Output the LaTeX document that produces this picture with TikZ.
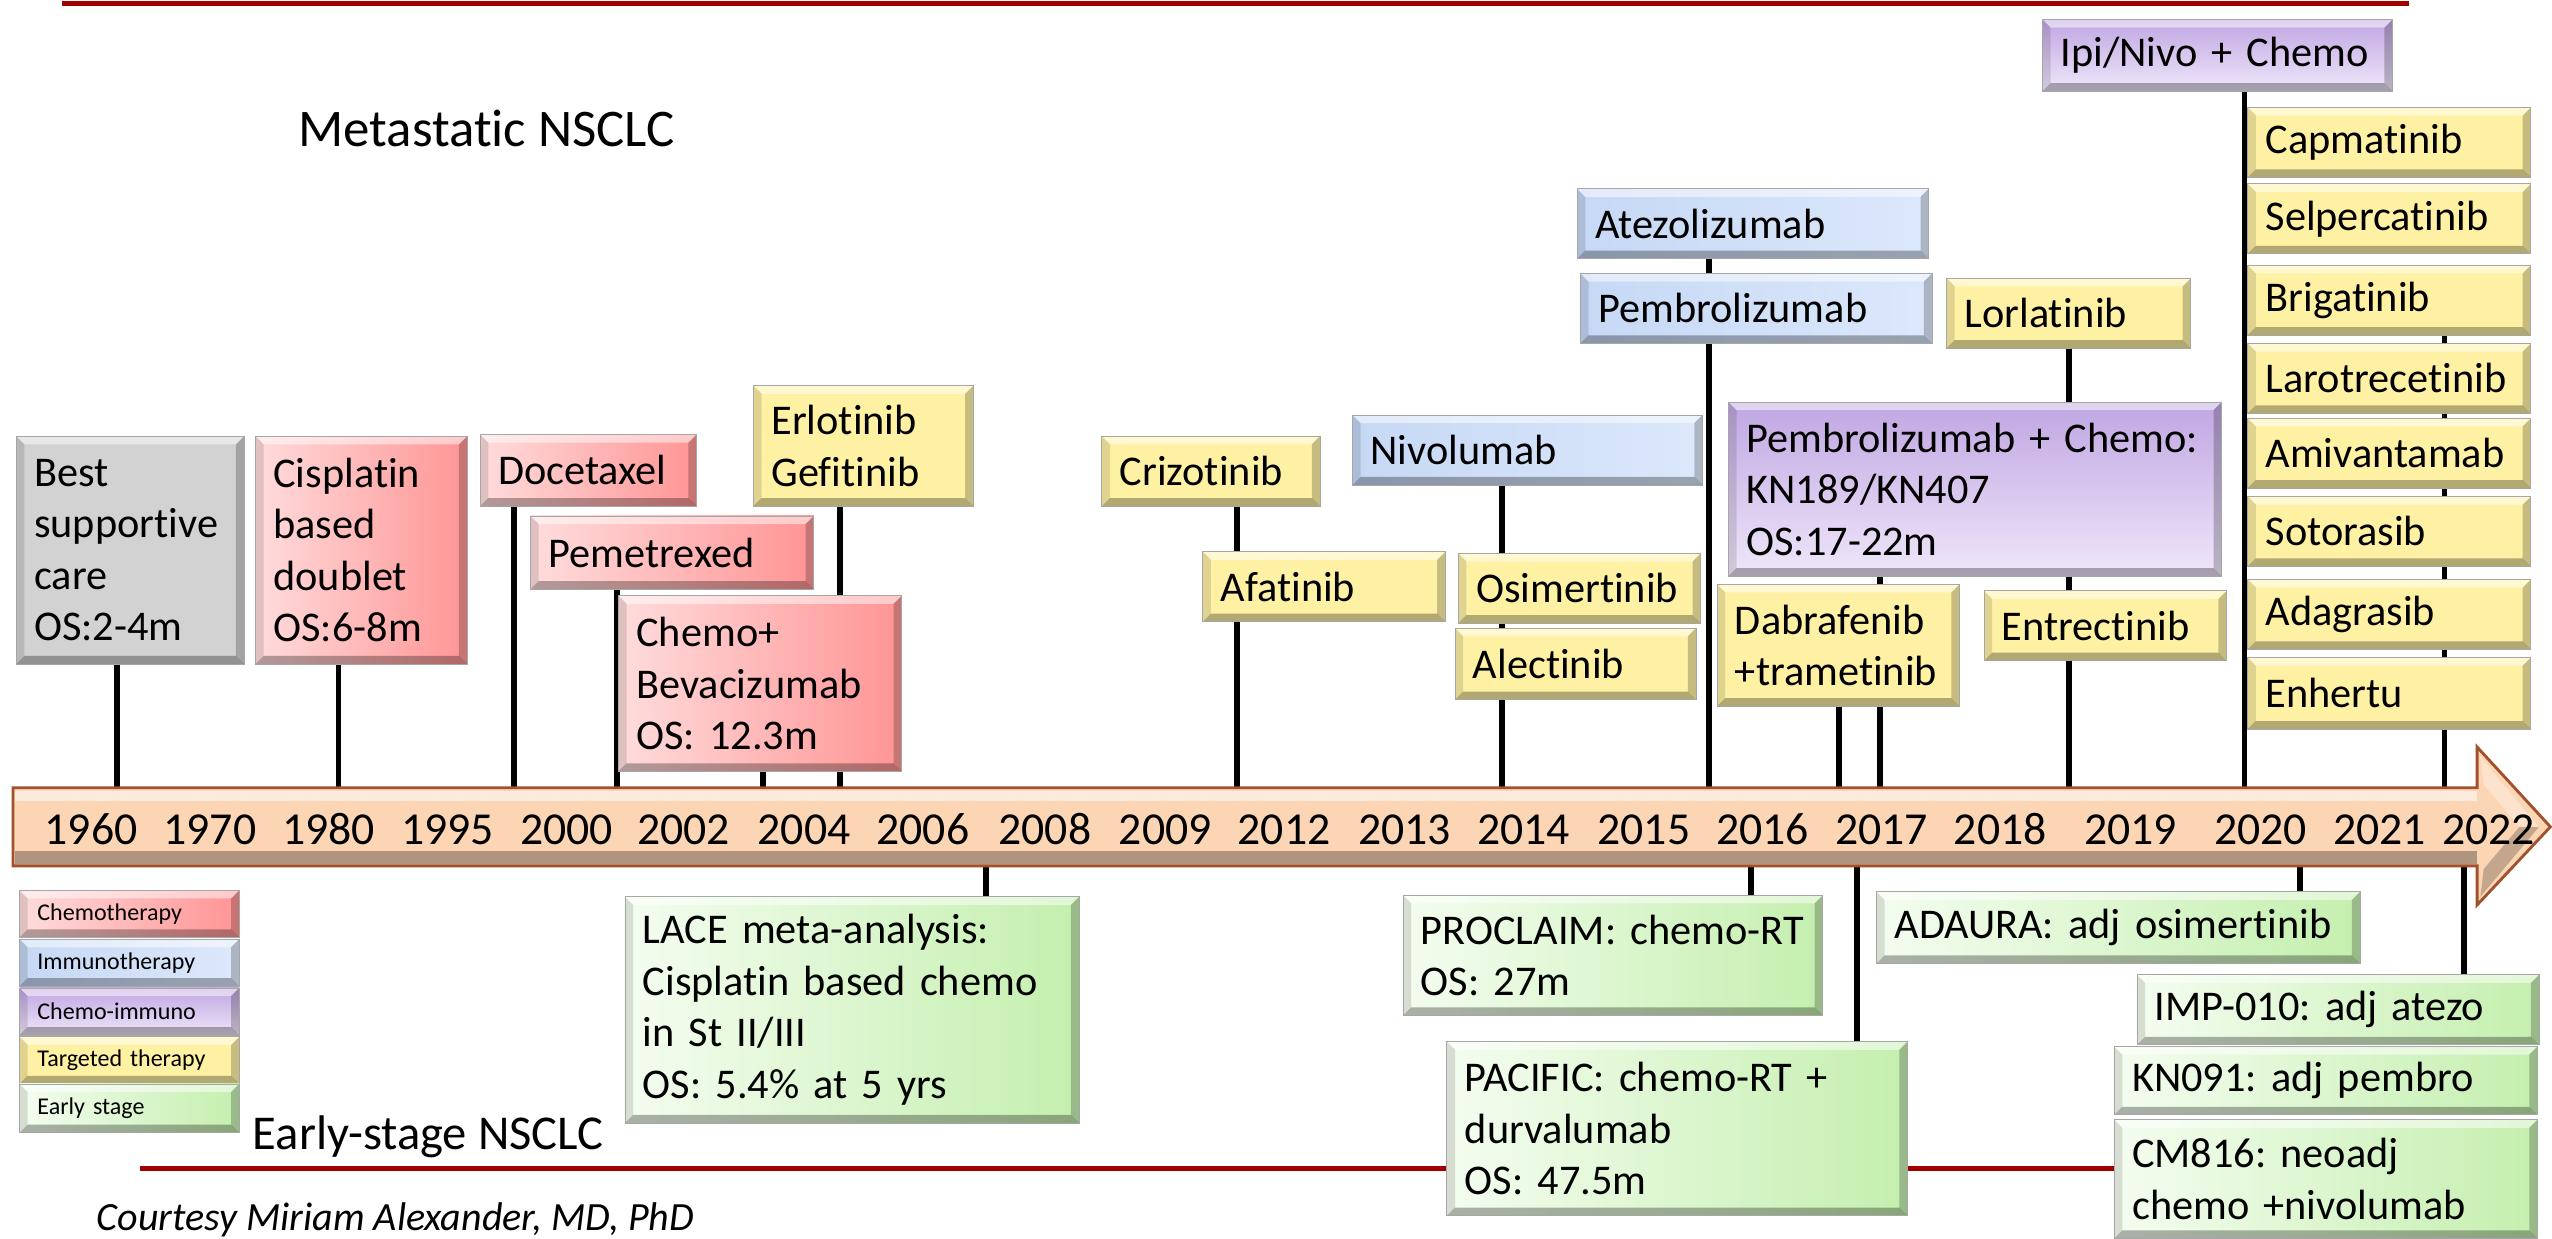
\documentclass[tikz,border=0pt]{standalone}
\usepackage{fontspec}
\setmainfont{Carlito}[Ligatures={NoCommon}]
\usetikzlibrary{backgrounds}
\frenchspacing
\definecolor{pinkL}{HTML}{FFDCDC}
\definecolor{pinkR}{HTML}{FF9494}
\definecolor{yel}{HTML}{FFF1A3}
\definecolor{blueL}{HTML}{C6D8F5}
\definecolor{blueR}{HTML}{DCE8FB}
\definecolor{purT}{HTML}{C0A6E2}
\definecolor{purB}{HTML}{EFE7FA}
\definecolor{grnL}{HTML}{F4FDF0}
\definecolor{grnR}{HTML}{C4EFAE}
\definecolor{grayb}{HTML}{D2D2D2}
\definecolor{peach}{HTML}{FCD5B5}
\definecolor{tlborder}{HTML}{A0522D}
\definecolor{redline}{HTML}{A00000}
\def\bv{0.1cm}
\tikzset{
 bevel/.style={path picture={
   \fill[white,opacity=.5] (path picture bounding box.north west) -- (path picture bounding box.north east) -- ([shift={(-\bv,-\bv)}]path picture bounding box.north east) -- ([shift={(\bv,-\bv)}]path picture bounding box.north west) -- cycle;
   \fill[black,opacity=.3] (path picture bounding box.south west) -- (path picture bounding box.south east) -- ([shift={(-\bv,\bv)}]path picture bounding box.south east) -- ([shift={(\bv,\bv)}]path picture bounding box.south west) -- cycle;
   \fill[black,opacity=.12] (path picture bounding box.north west) -- ([shift={(\bv,-\bv)}]path picture bounding box.north west) -- ([shift={(\bv,\bv)}]path picture bounding box.south west) -- (path picture bounding box.south west) -- cycle;
   \fill[black,opacity=.22] (path picture bounding box.north east) -- ([shift={(-\bv,-\bv)}]path picture bounding box.north east) -- ([shift={(-\bv,\bv)}]path picture bounding box.south east) -- (path picture bounding box.south east) -- cycle;
 }},
 tbox/.style={rectangle, draw=black!35, line width=0.3pt, bevel, inner xsep=0.22cm, inner ysep=0pt, align=left, font=\fontsize{14.8}{18}\selectfont},
 chemo/.style={tbox, left color=pinkL, right color=pinkR},
 targ/.style={tbox, fill=yel},
 immu/.style={tbox, left color=blueL, right color=blueR},
 chim/.style={tbox, top color=purT, bottom color=purB},
 early/.style={tbox, left color=grnL, right color=grnR},
 bsc/.style={tbox, fill=grayb},
 conn/.style={line width=2pt, black},
 redln/.style={line width=1.6pt, redline},
 year/.style={font=\fontsize{16}{19}\selectfont, anchor=base, inner sep=0pt},
 legend/.style={font=\fontsize{8.4}{10}\selectfont},
}
\newcommand\bx[7]{%
 \pgfmathsetlengthmacro\bxw{(#5-#3)*0.02cm}%
 \pgfmathsetlengthmacro\bxh{(#6-#4)*0.02cm}%
 \pgfmathsetlengthmacro\bxt{(#5-#3-22)*0.02cm}%
 \node[#2, minimum width=\bxw, minimum height=\bxh, text width=\bxt] (#1) at ({(#3+#5)/2},{(#4+#6)/2}) {#7};}
\begin{document}
\begin{tikzpicture}[x=0.02cm, y=-0.02cm]
\useasboundingbox (0,0) rectangle (1568,761);
% axis reference coordinates
\coordinate (axT) at (0,484);
\coordinate (axB) at (0,532);
% timeline arrow
\fill[peach] (8,484) -- (1522,484) -- (1522,459) -- (1567,508) -- (1522,556) -- (1522,532) -- (8,532) -- cycle;
\fill[white,opacity=.55] (9,486) rectangle (1522,492);
\fill[black,opacity=.30] (9,523) rectangle (1522,531);
\fill[white,opacity=.35] (1524,465) -- (1560,508) -- (1548,508) -- (1526,482) -- cycle;
\fill[black,opacity=.22] (1524,551) -- (1560,508) -- (1548,508) -- (1526,534) -- cycle;
\draw[tlborder, line width=1pt] (8,484) -- (1522,484) -- (1522,459) -- (1567,508) -- (1522,556) -- (1522,532) -- (8,532) -- cycle;
\foreach \yr/\cx in {1960/56,1970/129,1980/202,1995/275,2000/348,2002/420,2004/494,2006/567,2008/642,2009/716,2012/789,2013/863,2014/936,2015/1010,2016/1083,2017/1156,2018/1229,2019/1309,2020/1389,2021/1462,2022/1529}
  \node[year] (y\yr) at (\cx,519) {\yr};
% titles
\node[anchor=base west, inner sep=0, font=\fontsize{18.5}{22}\selectfont] (meta) at (183,90) {Metastatic NSCLC};
\node[anchor=base west, inner sep=0, font=\fontsize{17}{20}\selectfont] (earlylbl) at (155,706) {Early-stage NSCLC};
\node[anchor=base west, inner sep=0, font=\fontsize{14}{17}\selectfont\itshape] (court) at (59,756) {Courtesy Miriam Alexander, MD, PhD};
% top boxes
\bx{best}{bsc}{10}{268}{150}{408}{Best\\supportive\\care\\OS:2-4m}
\bx{cis}{chemo}{157}{268}{287}{408}{Cisplatin\\based\\doublet\\OS:6-8m}
\bx{doce}{chemo}{295}{267}{428}{311}{Docetaxel}
\bx{peme}{chemo}{326}{317}{500}{362}{Pemetrexed}
\bx{bev}{chemo}{380}{366}{554}{474}{Chemo+\\Bevacizumab\\OS: 12.3m}
\bx{erlo}{targ}{463}{237}{598}{311}{Erlotinib\\Gefitinib}
\bx{crizo}{targ}{677}{268}{811}{311}{Crizotinib}
\bx{afa}{targ}{739}{339}{888}{382}{Afatinib}
\bx{nivo}{immu}{831}{255}{1046}{298}{Nivolumab}
\bx{osi}{targ}{896}{340}{1045}{383}{Osimertinib}
\bx{alec}{targ}{894}{386}{1042}{430}{Alectinib}
\bx{atezo}{immu}{969}{116}{1185}{159}{Atezolizumab}
\bx{pembro}{immu}{971}{168}{1187}{211}{Pembrolizumab}
\bx{lorla}{targ}{1196}{171}{1346}{214}{Lorlatinib}
\bx{pchemo}{chim}{1062}{247}{1365}{354}{\mbox{Pembrolizumab + Chemo:}\\KN189/KN407\\OS:17-22m}
\bx{dabra}{targ}{1055}{359}{1204}{434}{Dabrafenib\\+trametinib}
\bx{entrec}{targ}{1219}{363}{1368}{406}{Entrectinib}
\bx{ipi}{chim}{1255}{12}{1470}{56}{\mbox{Ipi/Nivo + Chemo}}
\bx{capma}{targ}{1381}{66}{1555}{109}{Capmatinib}
\bx{selper}{targ}{1381}{113}{1555}{156}{Selpercatinib}
\bx{briga}{targ}{1381}{163}{1555}{206}{Brigatinib}
\bx{laro}{targ}{1381}{211}{1555}{254}{Larotrecetinib}
\bx{amiv}{targ}{1381}{257}{1555}{300}{Amivantamab}
\bx{soto}{targ}{1381}{305}{1555}{348}{Sotorasib}
\bx{adag}{targ}{1381}{356}{1555}{399}{Adagrasib}
\bx{enh}{targ}{1381}{404}{1555}{448}{Enhertu}
% bottom boxes
\bx{lace}{early}{384}{551}{663}{690}{\mbox{LACE meta-analysis:}\\\mbox{Cisplatin based chemo}\\in St II/III\\\mbox{OS: 5.4\% at 5 yrs}}
\bx{procl}{early}{862}{550}{1120}{624}{\mbox{PROCLAIM: chemo-RT}\\OS: 27m}
\bx{pacif}{early}{889}{640}{1172}{747}{\mbox{PACIFIC: chemo-RT +}\\durvalumab\\OS: 47.5m}
\bx{adaura}{early}{1153}{548}{1450}{592}{\mbox{ADAURA: adj osimertinib}}
\bx{imp}{early}{1313}{599}{1560}{642}{\mbox{IMP-010: adj atezo}}
\bx{kn}{early}{1299}{643}{1559}{685}{\mbox{KN091: adj pembro}}
\bx{cm}{early}{1299}{688}{1559}{761}{\mbox{CM816: neoadj}\\\mbox{chemo +nivolumab}}
% legend
\bx{leg1}{chemo,legend}{12}{547}{147}{576}{Chemotherapy}
\bx{leg2}{immu,legend}{12}{577}{147}{606}{Immunotherapy}
\bx{leg3}{chim,legend}{12}{607}{147}{636}{Chemo-immuno}
\bx{leg4}{targ,legend}{12}{637}{147}{666}{Targeted therapy}
\bx{leg5}{early,legend}{12}{666}{147}{696}{Early stage}
% event ticks on axis
\coordinate (t-best) at (72,484);
\coordinate (t-cis) at (208,484);
\coordinate (t-doce) at (316,484);
\coordinate (t-peme) at (379,484);
\coordinate (t-bev) at (469,484);
\coordinate (t-erlo) at (516,484);
\coordinate (t-crizo) at (760,484);
\coordinate (t-nivo) at (923,484);
\coordinate (t-atezo) at (1050,484);
\coordinate (t-dabra) at (1130,484);
\coordinate (t-pchemo) at (1155,484);
\coordinate (t-lorla) at (1271,484);
\coordinate (t-ipi) at (1379,484);
\coordinate (t-briga) at (1502,484);
\coordinate (b-lace) at (606,532);
\coordinate (b-procl) at (1076,532);
\coordinate (b-pacif) at (1141,532);
\coordinate (b-adaura) at (1413,532);
\coordinate (b-imp) at (1514,532);
\coordinate (rl-a) at (38,2);
\coordinate (rl-b) at (1480,2);
\coordinate (rl-c) at (86,718);
\coordinate (rl-d) at (1310,718);
\begin{scope}[on background layer]
\draw[redln] (rl-a) -- (rl-b);
\draw[redln] (rl-c) -- (rl-d);
\draw[conn] (t-best |- best.south) -- (t-best);
\draw[conn] (t-cis |- cis.south) -- (t-cis);
\draw[conn] (t-doce |- doce.south) -- (t-doce);
\draw[conn] (t-peme |- peme.south) -- (t-peme);
\draw[conn] (t-bev |- bev.south) -- (t-bev);
\draw[conn] (t-erlo |- erlo.south) -- (t-erlo);
\draw[conn] (t-crizo |- crizo.south) -- (t-crizo);
\draw[conn] (t-nivo |- nivo.south) -- (t-nivo);
\draw[conn] (t-atezo |- atezo.south) -- (t-atezo);
\draw[conn] (t-dabra |- dabra.south) -- (t-dabra);
\draw[conn] (t-pchemo |- pchemo.south) -- (t-pchemo);
\draw[conn] (t-lorla |- lorla.south) -- (t-lorla);
\draw[conn] (t-ipi |- ipi.south) -- (t-ipi);
\draw[conn] (t-briga |- briga.center) -- (t-briga);
\draw[conn] (b-lace) -- (b-lace |- lace.north);
\draw[conn] (b-procl) -- (b-procl |- procl.north);
\draw[conn] (b-pacif) -- (b-pacif |- pacif.north);
\draw[conn] (b-adaura) -- (b-adaura |- adaura.north);
\draw[conn] (b-imp) -- (b-imp |- imp.north);
\end{scope}
\end{tikzpicture}
\end{document}
